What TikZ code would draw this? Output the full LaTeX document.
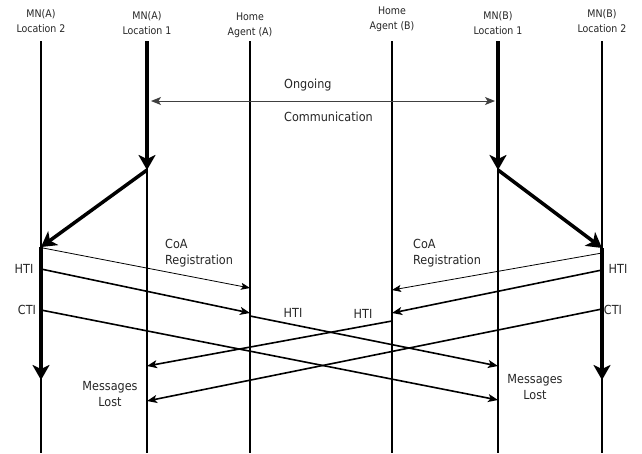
\documentclass[tikz,border=0pt]{standalone}
\usepackage{fontspec}
\setmainfont{DejaVu Sans Condensed}
\usetikzlibrary{arrows.meta}
\begin{document}
\begin{tikzpicture}[x=1pt,y=-1pt,
  lifeline/.style={line width=1.6pt},
  move/.style={line width=3.5pt,-{Stealth[length=15pt,width=17pt,inset=4pt]}},
  msg/.style={line width=1.6pt,-{Stealth[length=10pt,width=8pt,inset=2.5pt]}},
  thinmsg/.style={line width=0.8pt,-{Stealth[length=9pt,width=7pt,inset=2pt]}},
  comm/.style={line width=1pt,black!75,{Stealth[length=10pt,width=8pt,inset=2.5pt]}-{Stealth[length=10pt,width=8pt,inset=2.5pt]}},
  head/.style={font=\fontsize{10.5}{15}\selectfont,align=center,inner sep=0pt,text=black!85},
  lbl/.style={font=\fontsize{12.5}{16}\selectfont,inner sep=0pt,text=black!85},
]
\useasboundingbox (0,0) rectangle (642,453);

% headers
\node[head] (ha2) at (41,21.5) {MN(A)\\Location 2};
\node[head] (ha1) at (147,23.5) {MN(A)\\Location 1};
\node[head] (hha) at (250,25.5) {Home\\Agent (A)};
\node[head] (hhb) at (392,19.5) {Home\\Agent (B)};
\node[head] (hb1) at (498,23) {MN(B)\\Location 1};
\node[head] (hb2) at (602,21.5) {MN(B)\\Location 2};

% lifeline ends
\coordinate (a2t) at (41,41);  \coordinate (a2b) at (41,453);
\coordinate (a1t) at (147,41); \coordinate (a1b) at (147,453);
\coordinate (hat) at (250,41); \coordinate (hab) at (250,453);
\coordinate (hbt) at (392,41); \coordinate (hbb) at (392,453);
\coordinate (b1t) at (498,41); \coordinate (b1b) at (498,453);
\coordinate (b2t) at (602,41); \coordinate (b2b) at (602,453);

\draw[lifeline] (a2t) -- (a2b);
\draw[lifeline] (a1t) -- (a1b);
\draw[lifeline] (hat) -- (hab);
\draw[lifeline] (hbt) -- (hbb);
\draw[lifeline] (b1t) -- (b1b);
\draw[lifeline] (b2t) -- (b2b);

% movement
\coordinate (a1m) at (147,170);
\coordinate (a2m) at (41,247);
\coordinate (a2e) at (41,380);
\coordinate (b1m) at (498,170);
\coordinate (b2m) at (602,248);
\coordinate (b2e) at (602,380);
\draw[move] (a1t) -- (a1m);
\draw[move] (a1m) -- (a2m);
\draw[move] (a2m) -- (a2e);
\draw[move] (b1t) -- (b1m);
\draw[move] (b1m) -- (b2m);
\draw[move] (b2m) -- (b2e);

% ongoing communication
\coordinate (oc1) at (151,101);
\coordinate (oc2) at (495,101);
\draw[comm] (oc1) -- (oc2);
\node[lbl,anchor=west] (ong) at (284,85) {Ongoing};
\node[lbl,anchor=west] (com) at (284,117) {Communication};

% message endpoints
\coordinate (cA1) at (43,248);  \coordinate (cA2) at (250,288);
\coordinate (hA1) at (41,269);  \coordinate (hA2) at (250,313);
\coordinate (hA3) at (250,316); \coordinate (hA4) at (498,366);
\coordinate (tA1) at (41,310);  \coordinate (tA2) at (498,400);
\coordinate (cB1) at (602,253); \coordinate (cB2) at (392,290);
\coordinate (hB1) at (602,270); \coordinate (hB2) at (392,313);
\coordinate (hB3) at (392,321); \coordinate (hB4) at (147,366);
\coordinate (tB1) at (602,309); \coordinate (tB2) at (147,401);

\draw[thinmsg] (cA1) -- (cA2);
\draw[msg] (hA1) -- (hA2);
\draw[msg] (hA3) -- (hA4);
\draw[msg] (tA1) -- (tA2);
\draw[thinmsg] (cB1) -- (cB2);
\draw[msg] (hB1) -- (hB2);
\draw[msg] (hB3) -- (hB4);
\draw[msg] (tB1) -- (tB2);

% labels
\node[lbl,anchor=west,align=left] (coaA) at (165,253.5) {CoA\\Registration};
\node[lbl,anchor=west,align=left] (coaB) at (413,253.5) {CoA\\Registration};
\node[lbl] (htiA) at (24,269) {HTI};
\node[lbl] (ctiA) at (27,310) {CTI};
\node[lbl] (htiB) at (618,269) {HTI};
\node[lbl] (ctiB) at (613,310) {CTI};
\node[lbl] (htiMA) at (293,313) {HTI};
\node[lbl] (htiMB) at (363,314) {HTI};
\node[lbl,align=center] (lostA) at (110,394) {Messages\\Lost};
\node[lbl,align=center] (lostB) at (535,387) {Messages\\Lost};
\end{tikzpicture}
\end{document}
